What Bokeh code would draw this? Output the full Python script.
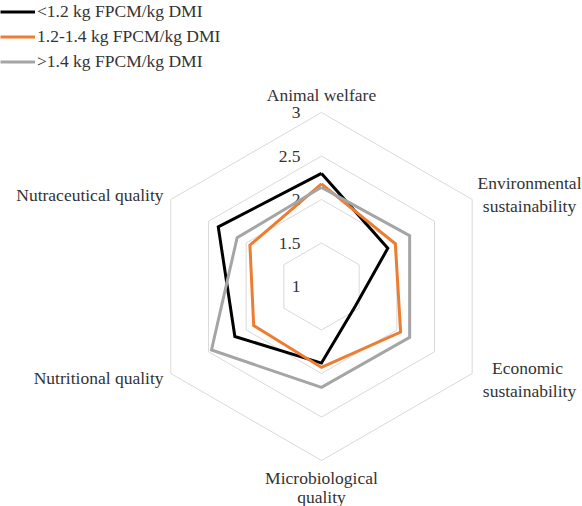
import numpy as np
from bokeh.plotting import figure
from bokeh.models import Range1d
from bokeh.core.properties import value
from bokeh.embed import file_html
from bokeh.resources import INLINE

# ---- data ----
categories = ["Animal welfare", "Environmental sustainability", "Economic sustainability",
              "Microbiological quality", "Nutritional quality", "Nutraceutical quality"]
series_names = ["<1.2 kg FPCM/kg DMI", "1.2-1.4 kg FPCM/kg DMI", ">1.4 kg FPCM/kg DMI"]
low = [2.30, 1.88, 1.45, 1.88, 2.15, 2.37]
mid = [2.18, 1.98, 2.05, 1.93, 1.90, 1.95]
high = [2.14, 2.17, 2.17, 2.16, 2.46, 2.12]
ticks = [1, 1.5, 2, 2.5, 3]
tick_labels = ["1", "1.5", "2", "2.5", "3"]
vmin, vmax = 1, 3

colors = ["#000000", "#ED7D31", "#A5A5A5"]
FONT = "Liberation Serif"
FS = "17.5px"
TXT = "#333333"
PX = 87.0  # pixels per value unit

n = len(categories)
theta = np.pi / 2 - np.arange(n) * 2 * np.pi / n


def polar(vals):
    r = np.asarray(vals, dtype=float) - vmin
    x = r * np.cos(theta)
    y = r * np.sin(theta)
    return list(x) + [x[0]], list(y) + [y[0]]


W, H = 582, 506
cx, cy = 321, 286  # center in figure pixels
p = figure(width=W, height=H, output_backend="svg", toolbar_location=None,
           x_range=Range1d(-cx / PX, (W - cx) / PX),
           y_range=Range1d(-(H - cy) / PX, cy / PX),
           x_axis_type=None, y_axis_type=None, min_border=0)
p.grid.visible = False
p.outline_line_color = None
p.background_fill_color = "white"

# grid hexagons
for t in ticks:
    if t == vmin:
        continue
    gx, gy = polar([t] * n)
    p.line(gx, gy, line_color="#D9D9D9", line_width=1)

# tick labels
p.text(x=[-21 / PX] * len(ticks), y=[t - vmin for t in ticks], text=tick_labels,
       text_font=value(FONT), text_font_size=FS, text_color=TXT,
       text_align="right", text_baseline="middle")

# series
for vals, name, col in zip([low, mid, high], series_names, colors):
    sx, sy = polar(vals)
    p.line(sx, sy, line_color=col, line_width=3, legend_label=name, line_join="miter")

# category labels (positions in pixel offsets from center)
lab_pos = [
    [("Animal welfare", 0, 192, "center")],
    [("Environmental", 208, 104, "center"), ("sustainability", 208, 81, "center")],
    [("Economic", 206, -81, "center"), ("sustainability", 208, -104, "center")],
    [("Microbiological", 0, -191, "center"), ("quality", 0, -210, "center")],
    [("Nutritional quality", -158, -91, "right")],
    [("Nutraceutical quality", -158, 92, "right")],
]
for group in lab_pos:
    for txt, dx, dy, al in group:
        p.text(x=[dx / PX], y=[dy / PX], text=[txt], text_font=value(FONT),
               text_font_size=FS, text_color=TXT, text_align=al,
               text_baseline="middle")

lg = p.legend[0]
lg.location = "top_left"
lg.margin = 0
lg.padding = 5
lg.spacing = 2
lg.glyph_width = 35
lg.glyph_height = 23
lg.label_height = 23
lg.label_standoff = 2
lg.label_text_font = FONT
lg.label_text_font_size = FS
lg.label_text_color = TXT
lg.background_fill_alpha = 0
lg.border_line_color = None

open("out.html", "w").write(file_html(p, INLINE))
